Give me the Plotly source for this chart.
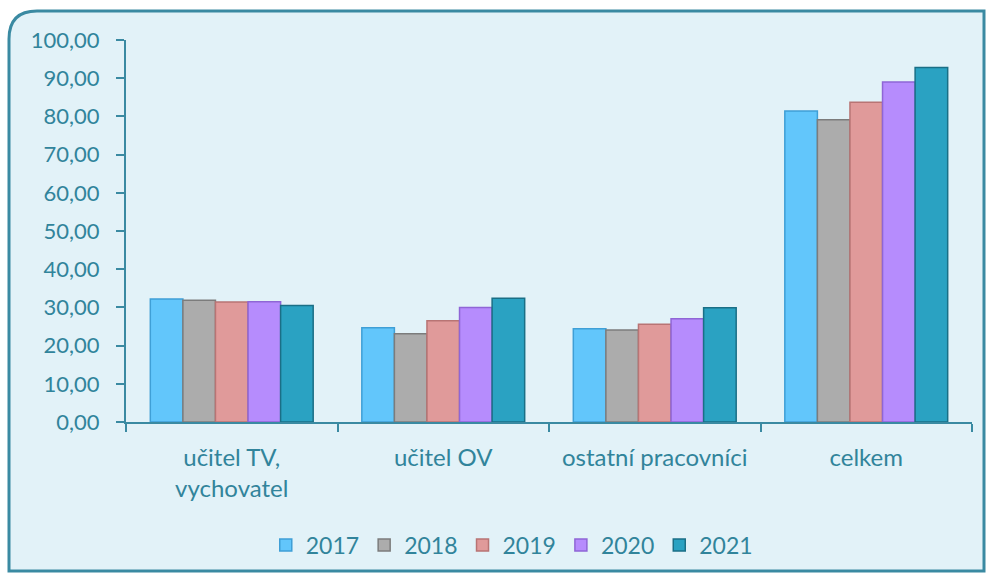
import plotly.graph_objects as go

categories = ["učitel TV,<br>vychovatel", "učitel OV", "ostatní pracovníci", "celkem"]
years = ["2017", "2018", "2019", "2020", "2021"]
values = {
    "2017": [32.2, 24.7, 24.4, 81.4],
    "2018": [31.9, 23.1, 24.1, 79.1],
    "2019": [31.4, 26.5, 25.6, 83.7],
    "2020": [31.5, 30.0, 27.0, 89.0],
    "2021": [30.5, 32.4, 29.9, 92.8],
}
fill_colors = {
    "2017": "#62c6fb",
    "2018": "#acacac",
    "2019": "#e09a9a",
    "2020": "#b68cfd",
    "2021": "#2aa2c2",
}
line_colors = {
    "2017": "#3f9fd6",
    "2018": "#7c7c7c",
    "2019": "#b87474",
    "2020": "#8f66d6",
    "2021": "#1a6f86",
}
y_ticks = [0, 10, 20, 30, 40, 50, 60, 70, 80, 90, 100]

TEXT = "#31849b"
FONT = "Lato"

fig = go.Figure()
for y in years:
    fig.add_trace(go.Bar(
        name=y, x=categories, y=values[y],
        marker=dict(color=fill_colors[y], line=dict(color=line_colors[y], width=1.5)),
    ))

W, H = 990, 579
L, R, T, B = 126, 18, 40, 157
pw, ph = W - L - R, H - T - B

def px2x(px):
    return (px - L) / pw

def py2y(py):
    return (H - B - py) / ph

x0, x1, y0, y1 = 9, 984, 11, 571
r = 28
rx, ry = r / pw, r / ph
X0, X1 = px2x(x0), px2x(x1)
Ytop, Ybot = py2y(y0), py2y(y1)
path = (
    f"M {X0+rx},{Ytop} L {X1},{Ytop} L {X1},{Ybot} L {X0},{Ybot} L {X0},{Ytop-ry} "
    f"Q {X0},{Ytop} {X0+rx},{Ytop} Z"
)
fig.add_shape(type="path", path=path, xref="paper", yref="paper",
              line=dict(color="#3a8aa2", width=3), fillcolor="#e2f2f8", layer="below")

fig.update_layout(
    width=W, height=H,
    margin=dict(l=L, r=R, t=T, b=B),
    paper_bgcolor="white",
    plot_bgcolor="rgba(0,0,0,0)",
    barmode="group",
    bargap=0.23,
    bargroupgap=0,
    separators=", ",
    font=dict(family=FONT, size=22, color=TEXT),
    showlegend=True,
    legend=dict(orientation="h", x=0.456, xanchor="center", y=-0.322, yanchor="middle",
                font=dict(family=FONT, size=23, color=TEXT), bgcolor="rgba(0,0,0,0)",
                itemwidth=30, traceorder="normal"),
)
fig.update_yaxes(range=[0, 100], tickvals=y_ticks, tickformat=".2f",
                 showgrid=False, zeroline=False, showline=True, linecolor="#3a8aa2",
                 linewidth=2, ticks="outside", ticklen=8, tickcolor="#3a8aa2", tickwidth=2,
                 ticklabelstandoff=12,
                 tickfont=dict(family=FONT, size=22, color=TEXT))
fig.update_xaxes(showgrid=False, showline=True, linecolor="#3a8aa2", linewidth=2,
                 ticks="outside", ticklen=8, tickcolor="#3a8aa2", tickwidth=2,
                 tickson="boundaries", ticklabelstandoff=13,
                 tickfont=dict(family=FONT, size=24, color=TEXT))

fig.write_html("out.html")
